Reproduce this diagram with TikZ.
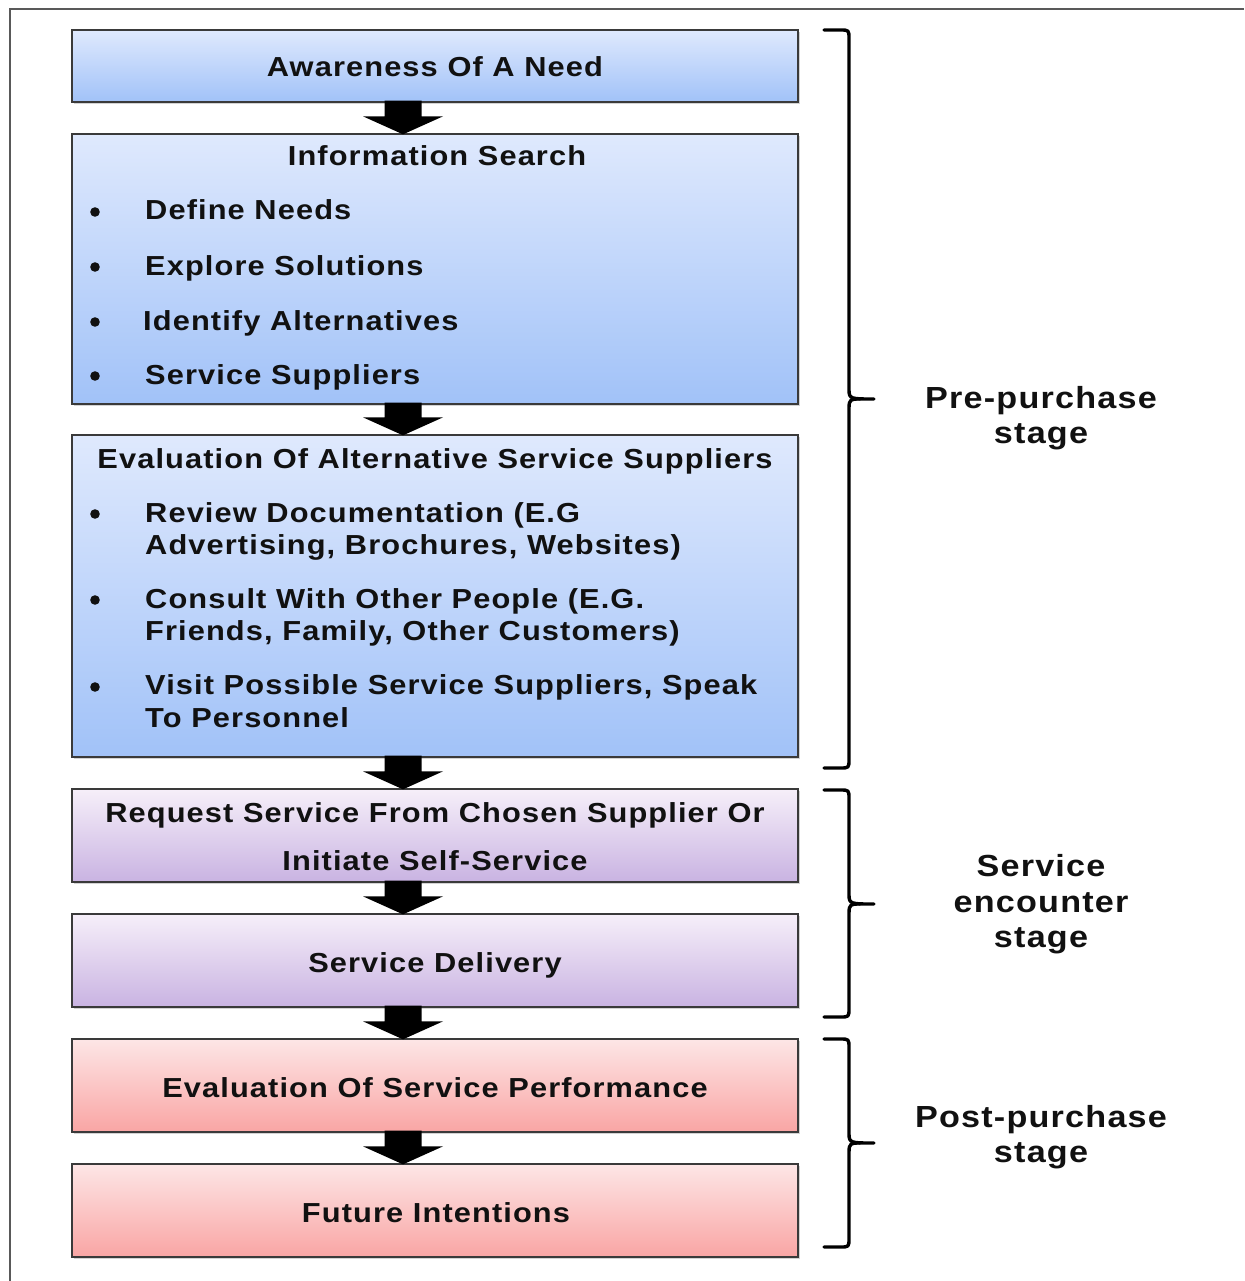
\documentclass[tikz,border=0pt]{standalone}
\usepackage{fontspec}
\setmainfont{Liberation Sans}
\newfontfamily\boxfont{Liberation Sans}[FakeStretch=1.12, LetterSpace=4]
\usetikzlibrary{calc,shadows}

\definecolor{bluetop}{HTML}{DFE9FD}
\definecolor{bluebot}{HTML}{A1C2F8}
\definecolor{purptop}{HTML}{F6EFF9}
\definecolor{purpbot}{HTML}{C9B3E2}
\definecolor{redtop}{HTML}{FDE6E6}
\definecolor{redbot}{HTML}{F9A5A4}
\definecolor{edgegray}{HTML}{3A3A3A}
\definecolor{inkblack}{HTML}{111111}

% Block arrow pointing down from one box to the next, centred on the x of (ax)
\newcommand\blockarrow[2]{%
  \fill[black]
    ($(#1.south -| ax)+(-18.5,-2)$) -- ($(#1.south -| ax)+(18.5,-2)$)
    -- ($(#2.north -| ax)+(18.5,-17)$) -- ($(#2.north -| ax)+(40,-17)$)
    -- ($(#2.north -| ax)+(0,1)$)
    -- ($(#2.north -| ax)+(-40,-17)$) -- ($(#2.north -| ax)+(-18.5,-17)$)
    -- cycle;}

% Curly brace: top y, bottom y, tip y
\newcommand\stagebrace[3]{%
  \draw[line width=3.4pt, line cap=round, line join=round]
    (824,#1) -- (840,#1) .. controls (849,#1) and (849,#1) .. ($(849,#1)+(0,9)$)
    -- ($(849,#3)+(0,-9)$) .. controls (849,#3) and (851,#3) .. (874,#3);
  \draw[line width=3.4pt, line cap=round, line join=round]
    (824,#2) -- (840,#2) .. controls (849,#2) and (849,#2) .. ($(849,#2)+(0,-9)$)
    -- ($(849,#3)+(0,9)$) .. controls (849,#3) and (851,#3) .. (860,#3);}

\begin{document}
\begin{tikzpicture}[x=1pt,y=-1pt,
  stagebox/.style={draw=edgegray, line width=1.3pt, minimum width=726pt, inner sep=0pt,
    drop shadow={shadow xshift=1.5pt, shadow yshift=-2pt, opacity=0.35}},
  bluebox/.style={stagebox, top color=bluetop, bottom color=bluebot},
  purplebox/.style={stagebox, top color=purptop, bottom color=purpbot},
  redbox/.style={stagebox, top color=redtop, bottom color=redbot},
  txt/.style={font=\boxfont\bfseries\fontsize{27.5}{33}\selectfont, text=inkblack,
    inner sep=0pt, anchor=base},
  itm/.style={txt, anchor=base west},
  lbl/.style={font=\boxfont\bfseries\fontsize{30.5}{35}\selectfont, text=inkblack,
    inner sep=0pt, anchor=base},
  bul/.style={fill=inkblack}]

\useasboundingbox (0,0) rectangle (1244,1281);

% outer frame (only its left and top edges fall inside the page)
\draw[line width=2pt, draw=black!65] (10,1281) -- (10,9) -- (1244,9);

\coordinate (ax) at (403,0);

% boxes
\node[bluebox, minimum height=72pt]  (b1) at (435,66) {};
\node[bluebox, minimum height=270pt] (b2) at (435,269) {};
\node[bluebox, minimum height=322pt] (b3) at (435,596) {};
\node[purplebox, minimum height=93pt] (b4) at (435,835.5) {};
\node[purplebox, minimum height=93pt] (b5) at (435,960.5) {};
\node[redbox, minimum height=93pt]   (b6) at (435,1085.5) {};
\node[redbox, minimum height=93pt]   (b7) at (435,1210.5) {};

% arrows between boxes
\blockarrow{b1}{b2}
\blockarrow{b2}{b3}
\blockarrow{b3}{b4}
\blockarrow{b4}{b5}
\blockarrow{b5}{b6}
\blockarrow{b6}{b7}

% box 1
\node[txt] (t1) at (435,77) {Awareness Of A Need};

% box 2
\node[txt] (t2) at (437,166) {Information Search};
\node[itm] (t2a) at (145,220) {Define Needs};
\node[itm] (t2b) at (145,275) {Explore Solutions};
\node[itm] (t2c) at (143,330) {Identify Alternatives};
\node[itm] (t2d) at (145,384) {Service Suppliers};
\foreach \y in {212,267,322,376} \fill[bul] (95,\y) circle (4.8);

% box 3
\node[txt] (t3) at (435,468) {Evaluation Of Alternative Service Suppliers};
\node[itm] (t3a) at (145,522) {Review Documentation (E.G};
\node[itm] (t3b) at (145,554) {Advertising, Brochures, Websites)};
\node[itm] (t3c) at (145,608) {Consult With Other People (E.G.};
\node[itm] (t3d) at (145,640) {Friends, Family, Other Customers)};
\node[itm] (t3e) at (145,694) {Visit Possible Service Suppliers, Speak};
\node[itm] (t3f) at (145,727) {To Personnel};
\foreach \y in {514,600,687} \fill[bul] (95,\y) circle (4.8);

% box 4 and 5
\node[txt] (t4a) at (435,822) {Request Service From Chosen Supplier Or};
\node[txt] (t4b) at (435,870) {Initiate Self-Service};
\node[txt] (t5) at (435,972) {Service Delivery};

% box 6 and 7
\node[txt] (t6) at (435,1097) {Evaluation Of Service Performance};
\node[txt] (t7) at (436,1222) {Future Intentions};

% stage braces
\stagebrace{30}{768}{399}
\stagebrace{790}{1017}{904}
\stagebrace{1039}{1247}{1143}

% stage labels
\node[lbl] (s1a) at (1041,408) {Pre-purchase};
\node[lbl] (s1b) at (1041,443) {stage};
\node[lbl] (s2a) at (1041,876) {Service};
\node[lbl] (s2b) at (1041,912) {encounter};
\node[lbl] (s2c) at (1041,947) {stage};
\node[lbl] (s3a) at (1041,1127) {Post-purchase};
\node[lbl] (s3b) at (1041,1162) {stage};

\end{tikzpicture}
\end{document}
